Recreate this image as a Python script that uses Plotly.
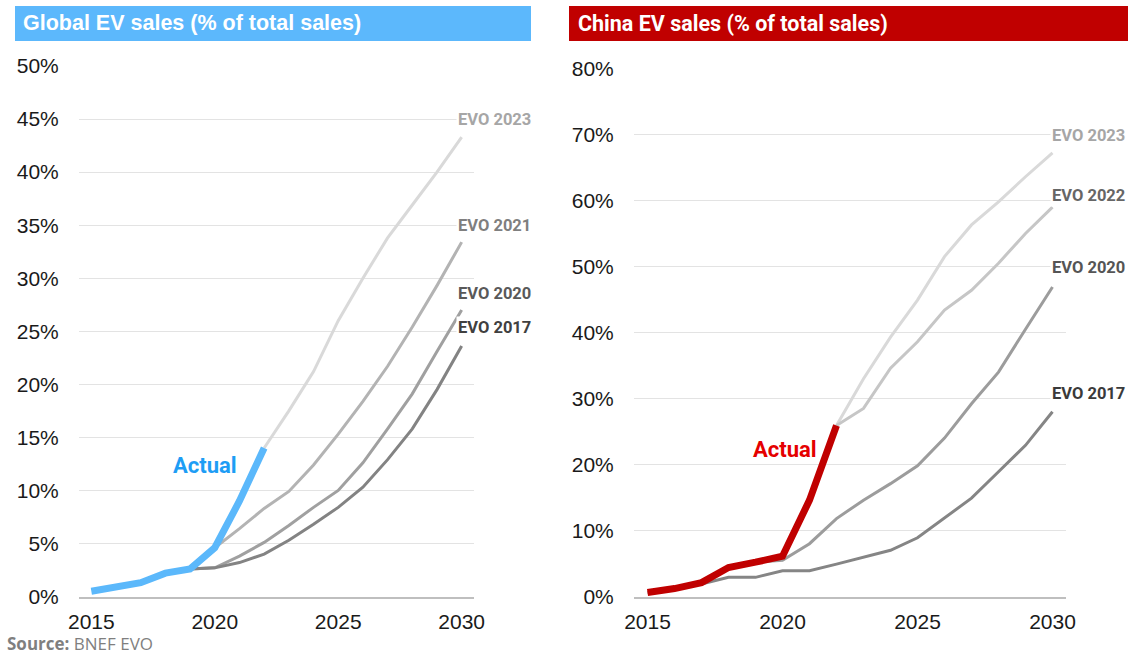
import plotly.graph_objects as go

W, H = 1131, 656

# ---------------- data ----------------
actual_years = [2015, 2016, 2017, 2018, 2019, 2020, 2021, 2022]
global_actual = [0.5, 0.85, 1.3, 2.2, 2.6, 4.6, 9.0, 14.0]

g_evo2023_years = [2022, 2023, 2024, 2025, 2026, 2027, 2028, 2029, 2030]
g_evo2023 = [14.0, 17.5, 21.2, 26.0, 30.0, 33.8, 36.9, 40.0, 43.3]

g_evo2021_years = [2020, 2021, 2022, 2023, 2024, 2025, 2026, 2027, 2028, 2029, 2030]
g_evo2021 = [4.6, 6.4, 8.3, 9.9, 12.4, 15.3, 18.4, 21.7, 25.4, 29.3, 33.4]

g_evo2020_years = [2019, 2020, 2021, 2022, 2023, 2024, 2025, 2026, 2027, 2028, 2029, 2030]
g_evo2020 = [2.6, 2.7, 3.8, 5.1, 6.7, 8.4, 10.0, 12.6, 15.8, 19.1, 23.1, 27.0]

g_evo2017_years = [2019, 2020, 2021, 2022, 2023, 2024, 2025, 2026, 2027, 2028, 2029, 2030]
g_evo2017 = [2.6, 2.7, 3.2, 4.0, 5.3, 6.8, 8.4, 10.3, 12.9, 15.8, 19.5, 23.6]

china_actual = [0.6, 1.2, 2.1, 4.4, 5.2, 6.1, 14.6, 25.9]

c_evo2023_years = [2022, 2023, 2024, 2025, 2026, 2027, 2028, 2029, 2030]
c_evo2023 = [25.9, 33.0, 39.3, 44.9, 51.5, 56.3, 59.8, 63.6, 67.2]

c_evo2022_years = [2022, 2023, 2024, 2025, 2026, 2027, 2028, 2029, 2030]
c_evo2022 = [25.9, 28.5, 34.6, 38.6, 43.4, 46.4, 50.5, 55.0, 59.0]

c_evo2020_years = [2019, 2020, 2021, 2022, 2023, 2024, 2025, 2026, 2027, 2028, 2029, 2030]
c_evo2020 = [5.2, 5.5, 8.0, 11.8, 14.6, 17.1, 19.8, 24.0, 29.2, 34.0, 40.5, 46.9]

c_evo2017_years = list(range(2015, 2031))
c_evo2017 = [0.6, 1.2, 1.9, 2.9, 2.9, 3.9, 3.9, 4.9, 6.0, 7.0, 8.9, 11.9, 14.9, 18.9, 22.9, 28.0]

x_ticks = [2015, 2020, 2025, 2030]
g_y_ticks = list(range(0, 51, 5))
c_y_ticks = list(range(0, 81, 10))

# ---------------- helpers ----------------
def px(x):
    return x / W

def py(y):
    return 1 - y / H

fig = go.Figure()

def line(x, y, color, width, xa, ya, name):
    fig.add_trace(go.Scatter(x=x, y=y, mode="lines", name=name,
                             line=dict(color=color, width=width),
                             xaxis=xa, yaxis=ya, hoverinfo="x+y+name"))

# Global
line(g_evo2023_years, g_evo2023, "#d9d9d9", 3, "x", "y", "EVO 2023")
line(g_evo2021_years, g_evo2021, "#b3b3b3", 3, "x", "y", "EVO 2021")
line(g_evo2020_years, g_evo2020, "#a0a0a0", 3, "x", "y", "EVO 2020")
line(g_evo2017_years, g_evo2017, "#838383", 3, "x", "y", "EVO 2017")
line(actual_years, global_actual, "#5bb8fb", 7, "x", "y", "Actual")

# China
line(c_evo2023_years, c_evo2023, "#d9d9d9", 3, "x2", "y2", "EVO 2023")
line(c_evo2022_years, c_evo2022, "#c6c6c6", 3, "x2", "y2", "EVO 2022")
line(c_evo2020_years, c_evo2020, "#9c9c9c", 3, "x2", "y2", "EVO 2020")
line(c_evo2017_years, c_evo2017, "#858585", 3, "x2", "y2", "EVO 2017")
line(actual_years, china_actual, "#c00000", 7, "x2", "y2", "Actual")

tick_font = dict(family="Liberation Sans, Arial", size=21, color="#1a1a1a")

def xaxis(domain, anchor):
    return dict(domain=domain, anchor=anchor, range=[2014.5, 2030.5],
                tickmode="array", tickvals=x_ticks, ticktext=[str(v) for v in x_ticks],
                showgrid=False, zeroline=False, automargin=False,
                showline=True, linecolor="#bfbfbf", linewidth=2,
                ticks="outside", ticklen=0, tickcolor="rgba(0,0,0,0)",
                ticklabelstandoff=5, tickfont=tick_font, fixedrange=True)

def yaxis(domain, anchor, rng, tv):
    return dict(domain=domain, anchor=anchor, range=rng,
                tickmode="array", tickvals=tv, ticktext=["%d%%" % v for v in tv],
                showgrid=True, gridcolor="#e3e3e3", gridwidth=1, automargin=False,
                zeroline=False, showline=False, ticks="outside", ticklen=0,
                tickcolor="rgba(0,0,0,0)", ticklabelstandoff=15,
                tickfont=tick_font, fixedrange=True)

fig.update_layout(
    width=W, height=H,
    margin=dict(l=0, r=0, t=0, b=0, pad=0, autoexpand=False),
    paper_bgcolor="white", plot_bgcolor="white",
    showlegend=False,
    xaxis=xaxis([px(79), px(474)], "y"),
    yaxis=yaxis([py(596.5), py(66)], "x", [0, 50], g_y_ticks),
    xaxis2=xaxis([px(634), px(1066)], "y2"),
    yaxis2=yaxis([py(596.5), py(68.5)], "x2", [0, 80], c_y_ticks),
)

# Title bars
fig.add_shape(type="rect", xref="paper", yref="paper",
              x0=px(15), x1=px(531), y0=py(41), y1=py(6),
              fillcolor="#5cb8fc", line=dict(width=0), layer="below")
fig.add_shape(type="rect", xref="paper", yref="paper",
              x0=px(569), x1=px(1128), y0=py(41), y1=py(6),
              fillcolor="#c00000", line=dict(width=0), layer="below")

annos = []
annos.append(dict(text="<b>Global EV sales (% of total sales)</b>", x=px(21), y=py(23.5),
                  xref="paper", yref="paper", xanchor="left", yanchor="middle",
                  showarrow=False, font=dict(family="Liberation Sans, Arial", size=21.5, color="white")))
annos.append(dict(text="<b>China EV sales (% of total sales)</b>", x=px(576), y=py(23.5),
                  xref="paper", yref="paper", xanchor="left", yanchor="middle",
                  showarrow=False, font=dict(family="Roboto", size=21.5, color="white")))

labels = [
    ("EVO 2023", 456, 120, "#a6a6a6"),
    ("EVO 2021", 456, 225, "#7f7f7f"),
    ("EVO 2020", 456, 293, "#595959"),
    ("EVO 2017", 456, 327, "#404040"),
    ("EVO 2023", 1050, 135, "#a6a6a6"),
    ("EVO 2022", 1050, 195, "#666666"),
    ("EVO 2020", 1050, 268, "#555555"),
    ("EVO 2017", 1050, 393, "#3a3a3a"),
]
for t, x, y, c in labels:
    annos.append(dict(text="<b>%s</b>" % t, x=px(x), y=py(y), xref="paper", yref="paper",
                      xanchor="left", yanchor="middle", showarrow=False,
                      bgcolor="white", borderpad=1,
                      font=dict(family="Roboto", size=16.5, color=c)))

annos.append(dict(text="<b>Actual</b>", x=px(205), y=py(465), xref="paper", yref="paper",
                  xanchor="center", yanchor="middle", showarrow=False,
                  font=dict(family="Roboto", size=22, color="#1e9df5")))
annos.append(dict(text="<b>Actual</b>", x=px(785), y=py(449), xref="paper", yref="paper",
                  xanchor="center", yanchor="middle", showarrow=False,
                  font=dict(family="Roboto", size=22, color="#e50000")))

annos.append(dict(text="<b>Source:</b> BNEF EVO", x=px(6), y=py(643.5), xref="paper", yref="paper",
                  xanchor="left", yanchor="middle", showarrow=False, borderpad=0,
                  font=dict(family="Open Sans", size=17, color="#7f7f7f")))

fig.update_layout(annotations=annos)

fig.write_html("out.html", config={"displayModeBar": False},
               post_script="document.body.style.margin='0';document.body.style.overflow='hidden';")
